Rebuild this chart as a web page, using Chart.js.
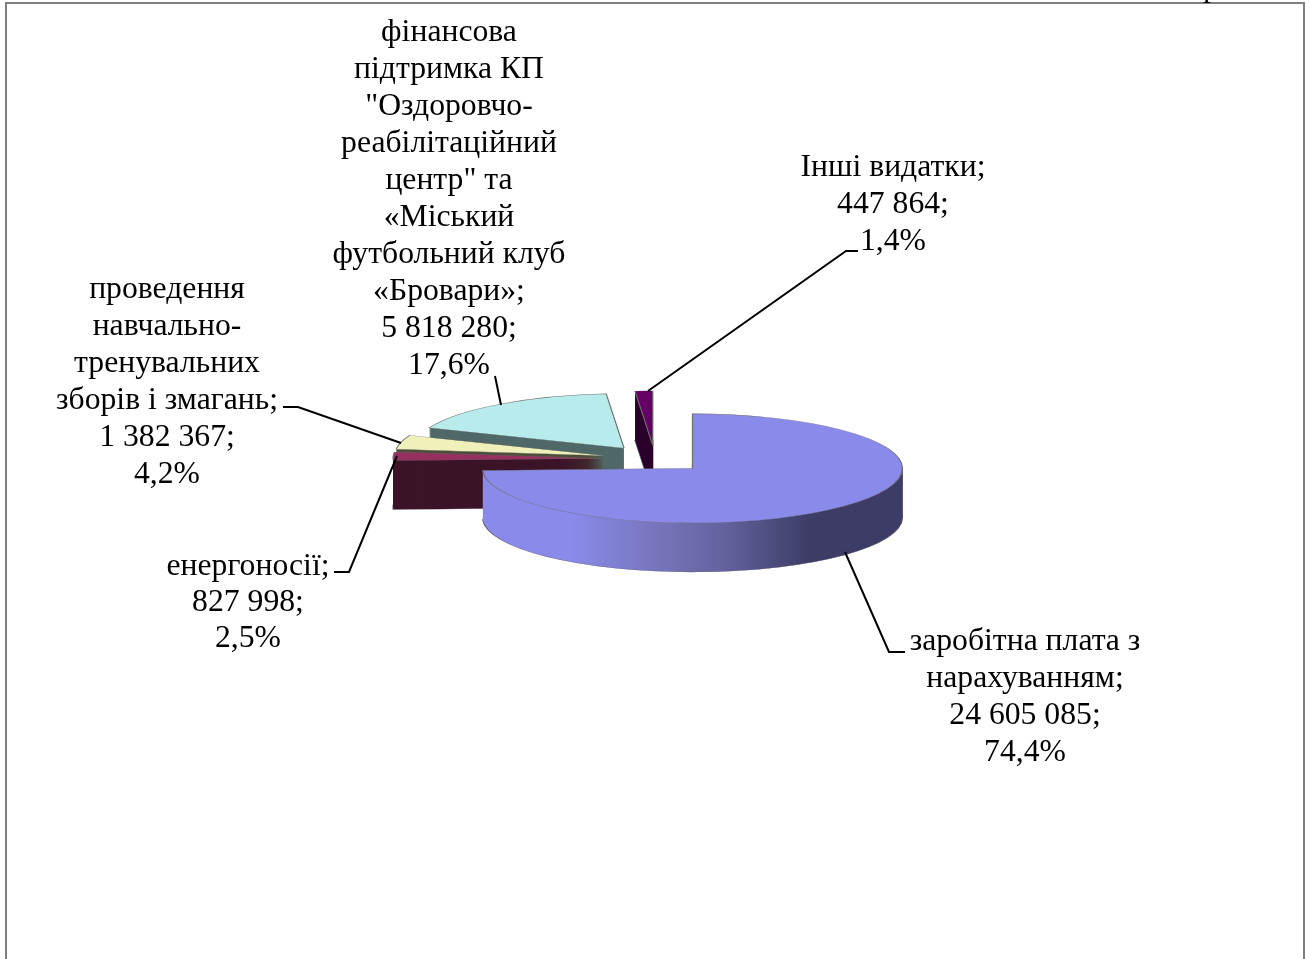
<!DOCTYPE html>
<html lang="uk">
<head>
<meta charset="utf-8">
<style>
  html, body { margin: 0; padding: 0; background: #fff; overflow: hidden; }
  canvas { display: block; }
</style>
</head>
<body>
<canvas id="pie" width="1310" height="959"></canvas>
<script src="https://cdn.jsdelivr.net/npm/chart.js@4/dist/chart.umd.min.js"></script>
<script>
// data, clockwise from 12 o'clock
const categories = [
  'заробітна плата з нарахуванням',
  'енергоносії',
  'проведення навчально-тренувальних зборів і змагань',
  'фінансова підтримка КП "Оздоровчо-реабілітаційний центр" та «Міський футбольний клуб «Бровари»',
  'Інші видатки'
];
const values = [24605085, 827998, 1382367, 5818280, 447864];
const shares = ['74,4%', '2,5%', '4,2%', '17,6%', '1,4%'];
const valueTexts = ['24 605 085;', '827 998;', '1 382 367;', '5 818 280;', '447 864;'];
const categoryLines = [
  ['заробітна плата з', 'нарахуванням;'],
  ['енергоносії;'],
  ['проведення', 'навчально-', 'тренувальних', 'зборів і змагань;'],
  ['фінансова', 'підтримка КП', '"Оздоровчо-', 'реабілітаційний', 'центр" та', '«Міський', 'футбольний клуб', '«Бровари»;'],
  ['Інші видатки;']
];

// colours
const topColors = ['#8a8aeb', '#953060', '#f0f0bb', '#b8ecec', '#660066'];
const sideColors = [null, '#3c1428', '#4e4e3a', '#506868', '#2b002b'];

// look of the tilted pie
const squash = 0.26;
const depth = 49;
const explode = 52;

// label blocks: centre x, y of first line, line height
const labelBoxes = [
  { x: 1025, y: 642, lh: 37 },
  { x: 248, y: 567, lh: 36 },
  { x: 167, y: 290, lh: 37 },
  { x: 449, y: 33, lh: 37 },
  { x: 893, y: 168, lh: 37 }
];
const leaders = [
  [[845, 552], [889, 652], [905, 652]],
  [[397, 456], [349, 572], [334, 572]],
  [[401, 443], [298, 407], [283, 407]],
  [[501, 405], [495, 376]],
  [[648, 391], [846, 251], [858, 251]]
];

function drawFace(ctx, el, drop, fill, border) {
  const mid = (el.startAngle + el.endAngle) / 2;
  const saved = el.options;
  el.options = Object.assign({}, saved, {
    backgroundColor: fill,
    borderColor: border || fill,
    borderWidth: border ? 1.2 : 0
  });
  ctx.save();
  ctx.translate(el.x, el.y + drop);
  ctx.scale(1, squash);
  ctx.translate(-el.x, -el.y);
  ctx.translate(Math.cos(mid) * explode, Math.sin(mid) * explode);
  el.draw(ctx);
  ctx.restore();
  el.options = saved;
}

function rimFill(ctx, el, i) {
  if (sideColors[i]) return sideColors[i];
  const r = el.outerRadius;
  const g = ctx.createLinearGradient(el.x - r, 0, el.x + r, 0);
  g.addColorStop(0, '#8a8aeb');
  g.addColorStop(0.21, '#8a8aeb');
  g.addColorStop(0.45, '#7272b4');
  g.addColorStop(0.57, '#64639f');
  g.addColorStop(0.78, '#3c3c66');
  g.addColorStop(1, '#3c3c66');
  return g;
}

const pie3d = {
  id: 'pie3d',
  beforeDatasetsDraw(chart) {
    const ctx = chart.ctx;
    const arcs = chart.getDatasetMeta(0).data;
    // back to front
    for (let i = arcs.length - 1; i >= 0; i--) {
      const el = arcs[i];
      const rim = rimFill(ctx, el, i);
      drawFace(ctx, el, depth, rim, '#55556a');
      for (let d = depth - 1; d > 0; d--) {
        drawFace(ctx, el, d, rim);
      }
      drawFace(ctx, el, 0, topColors[i], '#6f6f6f');
    }
    return false;
  },
  afterDraw(chart) {
    const ctx = chart.ctx;
    ctx.save();

    // frame
    ctx.strokeStyle = '#808080';
    ctx.lineWidth = 2;
    ctx.strokeRect(6, 3, 1298, 970);

    // leader lines
    ctx.strokeStyle = '#000';
    ctx.lineWidth = 2;
    leaders.forEach(pts => {
      ctx.beginPath();
      pts.forEach((p, k) => k ? ctx.lineTo(p[0], p[1]) : ctx.moveTo(p[0], p[1]));
      ctx.stroke();
    });

    // labels
    ctx.fillStyle = '#000';
    ctx.font = '31.7px "Liberation Serif"';
    ctx.textAlign = 'center';
    ctx.textBaseline = 'middle';
    categories.forEach((name, i) => {
      const box = labelBoxes[i];
      const lines = categoryLines[i].concat(valueTexts[i], shares[i]);
      lines.forEach((t, k) => ctx.fillText(t, box.x, box.y + k * box.lh));
    });

    // tail of the page text above the chart, cut off by the top edge
    ctx.textBaseline = 'alphabetic';
    ctx.fillText('р', 1211, -4);
    ctx.restore();
  }
};

new Chart(document.getElementById('pie'), {
  type: 'pie',
  data: {
    labels: categories,
    datasets: [{ data: values, backgroundColor: topColors, radius: 210 }]
  },
  options: {
    responsive: false,
    animation: false,
    layout: { padding: { bottom: 41 } },
    events: [],
    plugins: { legend: { display: false }, tooltip: { enabled: false } }
  },
  plugins: [pie3d]
});
</script>
</body>
</html>
